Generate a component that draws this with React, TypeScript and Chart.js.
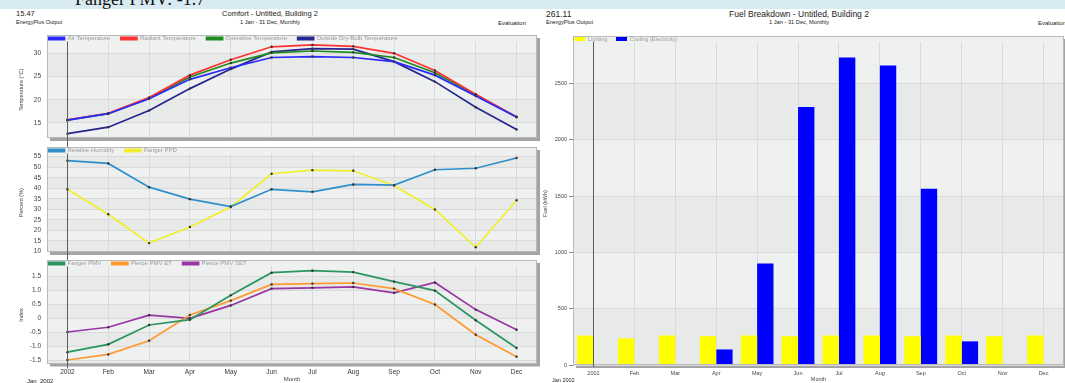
import React, { useEffect, useRef } from 'react';
import { Chart, registerables } from 'chart.js';

Chart.register(...registerables);

const FONT = "'Liberation Sans', Arial, Helvetica, sans-serif";
Chart.defaults.font.family = FONT;

// ---- data ----
const months = ['2002', 'Feb', 'Mar', 'Apr', 'May', 'Jun', 'Jul', 'Aug', 'Sep', 'Oct', 'Nov', 'Dec'];

const airTemp = [15.6, 17.0, 20.2, 24.4, 26.9, 29.1, 29.3, 29.1, 28.2, 25.3, 20.8, 16.3];
const radiantTemp = [15.7, 17.1, 20.5, 25.3, 28.6, 31.4, 31.8, 31.5, 30.0, 26.3, 21.2, 16.3];
const operativeTemp = [15.6, 17.0, 20.3, 24.9, 27.9, 30.1, 30.5, 30.2, 29.1, 25.8, 21.0, 16.3];
const outsideTemp = [12.7, 14.1, 17.7, 22.4, 26.6, 30.3, 31.0, 30.9, 28.2, 23.9, 18.4, 13.6];

const relHumidity = [53.1, 51.8, 40.5, 34.8, 31.3, 39.5, 38.3, 41.8, 41.5, 48.8, 49.5, 54.4];
const fangerPPD = [39.5, 27.6, 13.9, 21.6, 31.1, 46.9, 48.6, 48.3, 41.3, 29.9, 11.9, 34.3];

const fangerPMV = [-1.22, -0.94, -0.25, -0.06, 0.81, 1.62, 1.69, 1.64, 1.30, 0.98, -0.08, -1.07];
const pierceET = [-1.5, -1.3, -0.81, 0.11, 0.62, 1.2, 1.23, 1.25, 1.05, 0.48, -0.6, -1.38];
const pierceSET = [-0.5, -0.33, 0.1, -0.01, 0.45, 1.05, 1.08, 1.11, 0.9, 1.27, 0.3, -0.42];

const lighting = [262, 236, 262, 256, 262, 256, 262, 262, 256, 262, 256, 262];
const cooling = [0, 0, 6, 138, 902, 2292, 2733, 2662, 1566, 210, 6, 0];

// ---- tick values / labels ----
const tempTicks = [15, 20, 25, 30];
const percentTicks = [10, 15, 20, 25, 30, 35, 40, 45, 50, 55];
const indexTicks = [-1.5, -1, -0.5, 0, 0.5, 1, 1.5];
const indexTickLabels = ['-1.5', '-1.0', '-0.5', '0', '0.5', '1.0', '1.5'];
const fuelTicks = [0, 500, 1000, 1500, 2000, 2500];

// ---- plugins ----
const panelBox = {
  id: 'panelBox',
  beforeDraw(chart: any, _a: any, o: any) {
    const { ctx, chartArea: ca, scales } = chart;
    const ys = scales.y;
    const top = o.boxTop;
    const l = ca.left, r = ca.right, b = ca.bottom;
    ctx.save();
    ctx.fillStyle = '#a4a4a4';
    ctx.fillRect(l + 3, top + 3, r - l, b - top);
    const px = ys.ticks
      .map((t: any) => ys.getPixelForValue(t.value))
      .filter((p: number) => p > ca.top + 0.5 && p < b - 0.5)
      .sort((a: number, c: number) => a - c);
    const edges = [top, ...px, b];
    for (let i = 0; i < edges.length - 1; i++) {
      ctx.fillStyle = i % 2 === 0 ? '#eff0f0' : '#e8e9e9';
      ctx.fillRect(l, edges[i], r - l, edges[i + 1] - edges[i]);
    }
    ctx.restore();
  },
  afterDraw(chart: any, _a: any, o: any) {
    const { ctx, chartArea: ca, scales } = chart;
    ctx.save();
    ctx.strokeStyle = '#b9b9b9';
    ctx.lineWidth = 1;
    ctx.strokeRect(Math.round(ca.left) + 0.5, Math.round(o.boxTop) + 0.5, Math.round(ca.right - ca.left) - 1, Math.round(ca.bottom - o.boxTop) - 1);
    const x = Math.round(scales.x.getPixelForValue(0)) + 0.5;
    ctx.strokeStyle = '#5c5c5c';
    ctx.beginPath();
    ctx.moveTo(x, o.markTop != null ? o.markTop : ca.top);
    ctx.lineTo(x, o.markBottom != null ? o.markBottom : chart.height);
    ctx.stroke();
    ctx.restore();
  },
};

const legendPlace = {
  id: 'legendPlace',
  afterLayout(chart: any, _a: any, o: any) {
    const lg = chart.legend;
    if (!lg) return;
    const pad = lg.options.labels.padding;
    lg.left = chart.chartArea.left + o.dx - pad;
    lg.right = chart.chartArea.right;
    lg.top = o.y - pad;
    lg.bottom = chart.chartArea.top;
    lg.width = lg.right - lg.left;
    lg.height = lg.bottom - lg.top;
  },
};

Chart.register(panelBox as any, legendPlace as any);

// ---- config builders ----
interface PanelSpec {
  datasets: { label: string; data: number[]; color: string }[];
  min: number;
  max: number;
  ticks: number[];
  tickLabels?: string[];
  yTitle: string;
  legendH: number;
  xH: number;
  showX: boolean;
  markBottom?: number;
}

function lineConfig(p: PanelSpec): any {
  return {
    type: 'line',
    data: {
      labels: months,
      datasets: p.datasets.map((d) => ({
        label: d.label,
        data: d.data,
        borderColor: d.color,
        backgroundColor: d.color,
        borderWidth: 1.7,
        pointRadius: 1.2,
        pointBackgroundColor: '#333',
        pointBorderWidth: 0,
        tension: 0,
      })),
    },
    options: {
      responsive: false,
      animation: false,
      events: [],
      layout: { padding: { left: 0, right: 2, top: 0, bottom: 0 } },
      plugins: {
        legend: {
          position: 'top',
          align: 'start',
          maxHeight: p.legendH,
          labels: { boxWidth: 16, boxHeight: 2.5, padding: 10.7, color: '#9a9a9a', font: { size: 6, family: FONT } },
        },
        tooltip: { enabled: false },
        panelBox: { boxTop: 0, markBottom: p.markBottom },
        legendPlace: { dx: 1.5, y: 0.5 },
      },
      scales: {
        x: {
          type: 'category',
          offset: true,
          grid: { offset: false, color: '#dadada', drawTicks: false },
          border: { display: false },
          ticks: { display: p.showX, padding: 5, color: '#333', font: { size: 6.5 } },
          title: { display: p.showX, text: 'Month', color: '#444', font: { size: 6 }, padding: { top: 0, bottom: 0 } },
          afterFit: (s: any) => { s.height = p.xH; },
        },
        y: {
          min: p.min,
          max: p.max,
          grid: { color: '#dadada', drawTicks: true, tickLength: 6, tickColor: 'rgba(0,0,0,0)' },
          border: { display: false },
          afterBuildTicks: (s: any) => { s.ticks = p.ticks.map((v) => ({ value: v })); },
          ticks: {
            padding: 0,
            color: '#444',
            font: { size: 6.5 },
            callback: (v: any, i: number) => (p.tickLabels ? p.tickLabels[i] : String(v)),
          },
          title: { display: true, text: p.yTitle, color: '#444', font: { size: 5.5 }, padding: { top: 18.4, bottom: 0 } },
          afterFit: (s: any) => { s.width = 47; },
        },
      },
    },
  };
}

const panel1: PanelSpec = {
  datasets: [
    { label: 'Air Temperature', data: airTemp, color: '#2a2aff' },
    { label: 'Radiant Temperature', data: radiantTemp, color: '#ff3232' },
    { label: 'Operative Temperature', data: operativeTemp, color: '#1d8c1d' },
    { label: 'Outside Dry-Bulb Temperature', data: outsideTemp, color: '#262690' },
  ],
  min: 11.77, max: 32.54, ticks: tempTicks, yTitle: 'Temperature (°C)', legendH: 6.5, xH: 9, showX: false,
};

const panel2: PanelSpec = {
  datasets: [
    { label: 'Relative Humidity', data: relHumidity, color: '#2f8fca' },
    { label: 'Fanger PPD', data: fangerPPD, color: '#f0f02a' },
  ],
  min: 9.67, max: 56.52, ticks: percentTicks, yTitle: 'Percent (%)', legendH: 6.5, xH: 8, showX: false,
};

const panel3: PanelSpec = {
  datasets: [
    { label: 'Fanger PMV', data: fangerPMV, color: '#2b9560' },
    { label: 'Pierce PMV ET', data: pierceET, color: '#ff9a30' },
    { label: 'Pierce PMV SET', data: pierceSET, color: '#9a35a5' },
  ],
  min: -1.625, max: 1.84, ticks: indexTicks, tickLabels: indexTickLabels, yTitle: 'Index', legendH: 6.5, xH: 19.5, showX: true, markBottom: 108.5,
};

function barConfig(): any {
  return {
    type: 'bar',
    data: {
      labels: months,
      datasets: [
        { label: 'Lighting', data: lighting, backgroundColor: '#ffff00', borderColor: '#333', borderWidth: 0 },
        { label: 'Cooling (Electricity)', data: cooling, backgroundColor: '#0000ff', borderColor: '#333', borderWidth: 0 },
      ],
    },
    options: {
      responsive: false,
      animation: false,
      events: [],
      layout: { padding: { left: 0, right: 1, top: 0, bottom: 0 } },
      datasets: { bar: { categoryPercentage: 0.8, barPercentage: 1.0 } },
      plugins: {
        legend: {
          position: 'top',
          align: 'start',
          maxHeight: 6,
          labels: { boxWidth: 11, boxHeight: 4, padding: 8.7, color: '#9a9a9a', font: { size: 5.5, family: FONT } },
        },
        tooltip: { enabled: false },
        panelBox: { boxTop: 0, markBottom: 331 },
        legendPlace: { dx: 1.3, y: 0.3 },
      },
      scales: {
        x: {
          grid: { offset: false, color: '#dadada', drawTicks: false },
          border: { display: false },
          ticks: { padding: 5, color: '#444', font: { size: 5.5 } },
          title: { display: true, text: 'Month', color: '#444', font: { size: 5.5 }, padding: { top: 0, bottom: 0 } },
          afterFit: (s: any) => { s.height = 18; },
        },
        y: {
          min: 0,
          max: 2870,
          grid: { color: '#dadada', drawTicks: true, tickLength: 4, tickColor: '#888' },
          border: { display: false },
          afterBuildTicks: (s: any) => { s.ticks = fuelTicks.map((v) => ({ value: v })); },
          ticks: { padding: 2, color: '#444', font: { size: 5.5 }, callback: (v: any) => String(v) },
          title: { display: true, text: 'Fuel (kWh)', color: '#444', font: { size: 5.5 }, padding: { top: 12, bottom: 0 } },
          afterFit: (s: any) => { s.width = 43; },
        },
      },
    },
  };
}

function Txt(props: { x: number; y: number; size: number; align?: 'left' | 'center'; children: React.ReactNode; color?: string }) {
  const { x, y, size, align = 'left', children, color = '#222' } = props;
  return (
    <div
      style={{
        position: 'absolute',
        left: x,
        top: y,
        transform: align === 'center' ? 'translate(-50%, -50%)' : 'translate(0, -50%)',
        fontSize: size,
        lineHeight: 1,
        whiteSpace: 'pre',
        color,
        fontFamily: FONT,
      }}
    >
      {children}
    </div>
  );
}

export default function App() {
  const c1 = useRef<HTMLCanvasElement>(null);
  const c2 = useRef<HTMLCanvasElement>(null);
  const c3 = useRef<HTMLCanvasElement>(null);
  const c4 = useRef<HTMLCanvasElement>(null);

  useEffect(() => {
    const charts = [
      new Chart(c1.current!, lineConfig(panel1)),
      new Chart(c2.current!, lineConfig(panel2)),
      new Chart(c3.current!, lineConfig(panel3)),
      new Chart(c4.current!, barConfig()),
    ];
    return () => charts.forEach((c) => c.destroy());
  }, []);

  const cv = (left: number, top: number): React.CSSProperties => ({ position: 'absolute', left, top, display: 'block' });

  return (
    <div style={{ position: 'fixed', left: 0, top: 0, width: 1065, height: 383, background: '#fff', overflow: 'hidden' }}>
      <div style={{ position: 'absolute', left: 0, top: 0, width: 1065, height: 9, background: '#d8ebf3', overflow: 'hidden' }}>
        <div style={{ position: 'absolute', left: 75, top: -10, fontFamily: "'Liberation Serif', 'Times New Roman', serif", fontSize: 18, lineHeight: '18px', whiteSpace: 'nowrap', color: '#111' }}>
          Fanger PMV: -1.7
        </div>
      </div>

      <div style={{ position: 'absolute', left: 0, top: 9, width: 541, height: 26, overflow: 'hidden' }}>
        <Txt x={16} y={5} size={7.5}>15.47</Txt>
        <Txt x={16} y={13.5} size={5.5}>EnergyPlus Output</Txt>
        <Txt x={270} y={4.5} size={7.5} align="center">Comfort - Untitled, Building 2</Txt>
        <Txt x={270} y={13.5} size={5.7} align="center">1 Jan - 31 Dec, Monthly</Txt>
        <Txt x={498} y={13.5} size={6}>Evaluation</Txt>
      </div>
      <div style={{ position: 'absolute', left: 541, top: 9, width: 524, height: 26, overflow: 'hidden' }}>
        <Txt x={5} y={5} size={8.5}>261.11</Txt>
        <Txt x={5} y={13.5} size={5.6}>EnergyPlus Output</Txt>
        <Txt x={258} y={4.5} size={8.5} align="center">Fuel Breakdown - Untitled, Building 2</Txt>
        <Txt x={258} y={13.5} size={5.7} align="center">1 Jan - 31 Dec, Monthly</Txt>
        <Txt x={497} y={13.5} size={6}>Evaluation</Txt>
      </div>

      <canvas ref={c1} width={541} height={112} style={cv(0, 35)} />
      <canvas ref={c2} width={541} height={113} style={cv(0, 147)} />
      <canvas ref={c3} width={541} height={123} style={cv(0, 260)} />
      <canvas ref={c4} width={535} height={347} style={cv(530, 36)} />

      <Txt x={27} y={380.5} size={6}>Jan  2002</Txt>
      <Txt x={552} y={380.5} size={5.5}>Jan 2002</Txt>
    </div>
  );
}
